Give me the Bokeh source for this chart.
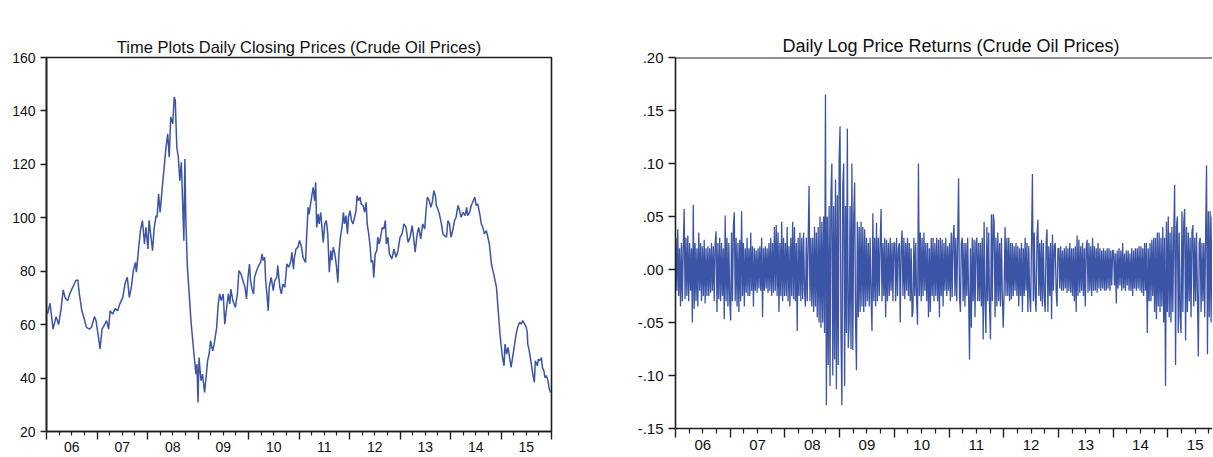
from bokeh.plotting import figure
from bokeh.layouts import row
from bokeh.models import FixedTicker, CustomJSTickFormatter, LinearAxis, Span, Range1d
from bokeh.embed import file_html
from bokeh.resources import INLINE

# ---------------- data ----------------
year_labels = ["06", "07", "08", "09", "10", "11", "12", "13", "14", "15"]
first_year = 2006

price_ticks = [20, 40, 60, 80, 100, 120, 140, 160]
price_tick_labels = ["20", "40", "60", "80", "100", "120", "140", "160"]
ret_ticks = [-0.15, -0.10, -0.05, 0.0, 0.05, 0.10, 0.15, 0.20]
ret_tick_labels = ["-.15", "-.10", "-.05", ".00", ".05", ".10", ".15", ".20"]

# daily closing prices (sampled), 2006 - early 2009
price_year_a = [2006.02, 2006.07, 2006.13, 2006.19, 2006.24, 2006.29, 2006.33, 2006.37, 2006.42, 2006.46,
                2006.52, 2006.58, 2006.62, 2006.65, 2006.70, 2006.75, 2006.79, 2006.85, 2006.89, 2006.95,
                2006.98, 2007.03, 2007.06, 2007.10, 2007.14, 2007.19, 2007.23, 2007.26, 2007.31, 2007.36,
                2007.41, 2007.45, 2007.51, 2007.56, 2007.60, 2007.64, 2007.68, 2007.72, 2007.76, 2007.78,
                2007.82, 2007.86, 2007.90, 2007.94, 2007.97, 2008.01, 2008.03, 2008.07, 2008.10, 2008.13,
                2008.17, 2008.19, 2008.22, 2008.25, 2008.29, 2008.33, 2008.36, 2008.40, 2008.43, 2008.46,
                2008.50, 2008.53, 2008.55, 2008.58, 2008.61, 2008.64, 2008.67, 2008.69, 2008.72, 2008.74,
                2008.76, 2008.79, 2008.83, 2008.86, 2008.89, 2008.92, 2008.96, 2008.98, 2009.00, 2009.02,
                2009.06, 2009.09, 2009.13, 2009.16, 2009.19, 2009.22, 2009.25, 2009.29, 2009.32]
price_value_a = [64, 68, 58.3, 63, 60, 66, 73, 70, 69, 71.5,
                 74, 76.5, 76.7, 71.5, 65.2, 62, 59, 58.3, 59, 63,
                 61.5, 55.2, 50.9, 58.3, 59.6, 61.5, 58.3, 65.2, 64, 66,
                 65.2, 67.7, 70.2, 75.8, 77.7, 70.2, 74, 80.2, 83.3, 79.6,
                 87.7, 95.2, 99, 90.2, 96.4, 88.3, 99, 92.7, 87.7, 95.8,
                 100.8, 100.2, 109, 102, 110.8, 119, 125.2, 131.4, 122.7, 137.7,
                 135.2, 145.2, 143.9, 126.4, 122.7, 113.9, 120.8, 109, 91.4, 122,
                 99, 81.5, 70.2, 61.5, 55.2, 49, 41.5, 45.2, 30.9, 47.7,
                 39, 41.5, 34.6, 40.2, 46.5, 49, 54, 50.2, 52.7]

# 2009 - 2012
price_year_b = [2009.37, 2009.40, 2009.43, 2009.46, 2009.50, 2009.53, 2009.56, 2009.60, 2009.63, 2009.65,
                2009.69, 2009.74, 2009.78, 2009.81, 2009.85, 2009.89, 2009.93, 2009.96, 2009.99, 2010.02,
                2010.04, 2010.07, 2010.10, 2010.12, 2010.16, 2010.20, 2010.24, 2010.27, 2010.29, 2010.32,
                2010.34, 2010.37, 2010.39, 2010.41, 2010.45, 2010.49, 2010.52, 2010.56, 2010.58, 2010.62,
                2010.65, 2010.68, 2010.72, 2010.76, 2010.80, 2010.84, 2010.86, 2010.89, 2010.91, 2010.94,
                2010.98, 2011.01, 2011.05, 2011.08, 2011.11, 2011.13, 2011.15, 2011.18, 2011.20, 2011.23,
                2011.26, 2011.28, 2011.31, 2011.33, 2011.35, 2011.38, 2011.40, 2011.43, 2011.46, 2011.48,
                2011.51, 2011.54, 2011.57, 2011.60, 2011.63, 2011.65, 2011.68, 2011.71, 2011.74, 2011.77,
                2011.79, 2011.82, 2011.85, 2011.88, 2011.90, 2011.93, 2011.96, 2011.98, 2012.01, 2012.04,
                2012.07, 2012.10, 2012.13, 2012.15, 2012.18, 2012.21, 2012.23, 2012.27, 2012.30, 2012.33,
                2012.35, 2012.38, 2012.41, 2012.43, 2012.46, 2012.48, 2012.51, 2012.54, 2012.56, 2012.59,
                2012.62, 2012.65, 2012.68, 2012.71]
price_value_b = [59, 67.7, 71.5, 69, 71.5, 60.2, 65.2, 71.5, 67.7, 73.3,
                 69, 66.5, 71.5, 80.2, 79, 76.5, 74, 69.6, 77.7, 82.7,
                 76.5, 73.3, 71.5, 77.7, 80.2, 82.1, 83.3, 86.5, 84, 85.2,
                 76.5, 70.2, 65.2, 74, 77.7, 72.7, 76.5, 77.7, 82.1, 74,
                 71.5, 75.2, 74, 82.7, 81.5, 84, 87.1, 80.8, 85.2, 88.3,
                 89, 91.5, 89, 85.2, 84, 83.3, 92.7, 103.9, 101.4, 105.2,
                 109, 111.4, 106.4, 113.3, 96.4, 101.4, 97.7, 102, 95.2, 90.8,
                 97.7, 99, 94, 79.6, 87.7, 84, 89, 86.5, 82.1, 75.8,
                 86.5, 92.7, 96.4, 102, 97.7, 100.8, 94, 100.2, 102.7, 99,
                 97.7, 100.2, 102.7, 108.3, 106.4, 107.7, 105.2, 104.6, 102, 105.8,
                 97.7, 94, 89, 83.3, 84, 77.7, 86.5, 87.7, 92.7, 90.2,
                 93.3, 96.4, 95.8, 99]

# 2012 - 2015
price_year_c = [2012.73, 2012.76, 2012.79, 2012.84, 2012.88, 2012.92, 2012.96, 2013.00, 2013.04, 2013.08,
                2013.12, 2013.16, 2013.20, 2013.24, 2013.27, 2013.30, 2013.34, 2013.37, 2013.41, 2013.45,
                2013.49, 2013.51, 2013.54, 2013.58, 2013.61, 2013.64, 2013.67, 2013.70, 2013.72, 2013.75,
                2013.78, 2013.82, 2013.85, 2013.88, 2013.92, 2013.95, 2013.98, 2014.01, 2014.05, 2014.08,
                2014.11, 2014.15, 2014.18, 2014.21, 2014.25, 2014.29, 2014.32, 2014.34, 2014.38, 2014.41,
                2014.44, 2014.48, 2014.51, 2014.54, 2014.58, 2014.61, 2014.64, 2014.67, 2014.71, 2014.74,
                2014.77, 2014.81, 2014.84, 2014.87, 2014.91, 2014.93, 2014.95, 2014.98, 2015.00, 2015.03,
                2015.06, 2015.08, 2015.11, 2015.14, 2015.17, 2015.20, 2015.24, 2015.27, 2015.30, 2015.33,
                2015.37, 2015.40, 2015.43, 2015.47, 2015.50, 2015.52, 2015.53, 2015.56, 2015.60, 2015.63,
                2015.66, 2015.68, 2015.72, 2015.74, 2015.77, 2015.80, 2015.82, 2015.85, 2015.87, 2015.90,
                2015.93, 2015.95, 2015.98]
price_value_c = [90.2, 92.7, 86.5, 84.6, 88.3, 85.2, 87.7, 92.7, 94, 97.7,
                 96.4, 90.8, 92.7, 97.1, 92.7, 87.1, 94, 96.4, 92.1, 97.7,
                 95.8, 101.4, 107.7, 106.4, 103.9, 105.8, 110.2, 108.3, 104.6, 103.3,
                 101.4, 97.7, 94, 93.3, 92.7, 99, 97.7, 92.7, 95.8, 99,
                 100.2, 104.6, 102.7, 100.2, 102, 100.8, 103.9, 100.8, 102, 104.6,
                 105.8, 107.7, 104.6, 105.2, 101.4, 97.7, 96.4, 94, 95.2, 92.7,
                 90.2, 82.7, 80.2, 77.7, 74, 69, 64, 56.5, 52.7, 47.7,
                 44.6, 52.7, 49, 51.5, 47.7, 44, 49, 52.7, 56.5, 59,
                 60.9, 60.2, 61.5, 60.2, 59, 57.1, 52.7, 50.2, 45.2, 41.5,
                 38.4, 46.5, 44.6, 47.1, 46.5, 47.7, 44, 42.7, 40.2, 40.9,
                 39, 36.5, 34.6]

# daily log returns (sampled extremes, 60 per year)
ret_2006 = [0.03, -0.02, 0.038, -0.025, 0.02, -0.035, 0.025, -0.03, 0.02, 0.057,
            -0.028, 0.03, -0.025, 0.032, -0.03, 0.025, -0.02, 0.02, -0.05, 0.061,
            -0.037, 0.025, -0.03, 0.02, -0.035, 0.035, -0.02, 0.025, -0.03, 0.022,
            -0.025, 0.028, -0.032, 0.02, -0.025, 0.022, -0.025, 0.02, -0.022, 0.025,
            -0.02, 0.022, -0.03, 0.025, 0.036, -0.04, 0.025, -0.028, 0.03, -0.03,
            0.025, -0.025, 0.02, -0.047, 0.051, -0.03, 0.03, -0.035, 0.025, -0.03]
ret_2007 = [-0.048, 0.035, -0.03, 0.042, 0.054, -0.03, 0.03, -0.035, 0.025, -0.04,
            0.028, -0.03, 0.055, -0.025, 0.025, -0.035, 0.02, -0.022, 0.03, -0.025,
            0.02, -0.025, 0.035, -0.02, 0.022, -0.035, 0.02, -0.02, 0.018, -0.022,
            0.02, -0.018, 0.022, -0.02, 0.03, -0.045, 0.02, -0.02, 0.022, -0.018,
            0.02, -0.022, 0.025, -0.02, 0.03, -0.025, 0.025, -0.022, 0.04, -0.02,
            0.042, -0.025, 0.035, -0.04, 0.025, -0.025, 0.045, -0.03, 0.03, -0.025]
ret_2008 = [0.025, -0.025, 0.04, -0.03, 0.022, -0.035, 0.03, -0.025, 0.045, -0.028,
            0.04, -0.03, 0.025, -0.058, 0.03, -0.025, 0.035, -0.03, 0.03, -0.028,
            0.035, -0.02, -0.035, 0.03, -0.03, 0.025, 0.079, -0.03, 0.03, -0.035,
            0.03, -0.04, 0.04, -0.035, 0.035, -0.045, 0.04, -0.05, 0.05, -0.055,
            0.045, -0.05, 0.05, -0.06, 0.165, -0.128, 0.05, -0.09, 0.06, -0.11,
            0.07, 0.1, -0.1, 0.06, -0.085, 0.085, -0.113, 0.07, -0.09, 0.105]
ret_2009 = [0.135, -0.06, -0.128, 0.08, 0.1, -0.11, 0.06, -0.06, 0.133, -0.074,
            -0.05, 0.06, -0.075, 0.1, -0.076, 0.05, 0.082, -0.05, -0.095, 0.045,
            -0.045, 0.04, -0.04, 0.045, -0.035, 0.04, -0.04, 0.038, -0.035, 0.03,
            -0.03, 0.025, -0.035, 0.03, -0.025, -0.058, 0.053, -0.03, 0.03, -0.035,
            0.044, -0.03, 0.03, -0.025, 0.025, 0.057, -0.03, 0.025, -0.025, 0.03,
            -0.045, 0.028, -0.03, 0.025, -0.025, 0.03, -0.02, 0.025, -0.03, 0.025]
ret_2010 = [0.025, -0.03, 0.03, -0.025, 0.02, 0.025, -0.05, 0.02, 0.037, -0.025,
            0.03, -0.028, 0.025, -0.02, 0.03, -0.025, 0.025, -0.03, 0.02, -0.045,
            -0.04, 0.03, -0.025, 0.025, -0.03, -0.052, 0.1, -0.025, 0.035, -0.03,
            0.03, -0.025, 0.035, -0.02, 0.025, -0.03, 0.025, -0.045, 0.02, -0.04,
            0.03, -0.025, 0.03, -0.03, 0.025, -0.025, 0.03, -0.03, 0.028, -0.045,
            0.03, -0.025, 0.028, -0.035, 0.025, -0.02, 0.03, -0.025, 0.022, -0.02]
ret_2011 = [0.025, -0.03, 0.035, -0.026, 0.03, 0.042, -0.025, 0.03, -0.03, 0.025,
            0.086, -0.025, -0.04, 0.025, 0.03, -0.03, 0.025, -0.035, 0.025, -0.025,
            0.03, -0.025, -0.085, 0.02, -0.055, 0.03, -0.03, 0.028, -0.045, 0.025,
            0.03, -0.03, 0.025, -0.03, 0.025, -0.035, 0.03, -0.066, 0.045, -0.03,
            -0.06, 0.04, -0.03, 0.035, -0.035, -0.066, 0.052, -0.03, 0.052, 0.045,
            -0.045, 0.03, -0.035, 0.035, -0.03, 0.025, -0.035, 0.03, -0.025, -0.055]
ret_2012 = [-0.02, 0.04, -0.025, 0.03, -0.025, 0.03, -0.03, 0.025, -0.028, 0.025,
            -0.025, 0.022, -0.02, 0.025, -0.025, 0.022, -0.035, 0.02, -0.025, 0.025,
            -0.04, 0.02, -0.025, 0.03, -0.02, 0.025, -0.04, 0.022, -0.025, -0.04,
            0.025, 0.09, -0.03, 0.035, -0.025, -0.04, 0.03, 0.047, -0.025, 0.025,
            -0.03, 0.028, -0.035, 0.025, -0.025, -0.04, 0.025, 0.038, -0.04, 0.022,
            -0.025, 0.025, -0.047, 0.033, -0.02, 0.022, 0.025, -0.02, -0.035, 0.02]
ret_2013 = [0.02, -0.018, 0.022, -0.02, 0.018, -0.02, 0.02, -0.018, 0.022, -0.022,
            0.02, -0.02, 0.025, -0.022, 0.02, -0.025, 0.02, -0.03, 0.022, -0.04,
            0.032, -0.025, 0.028, -0.022, 0.022, -0.02, 0.025, -0.025, 0.02, -0.035,
            0.02, 0.028, -0.022, 0.025, -0.02, 0.022, -0.025, 0.03, -0.02, 0.022,
            -0.02, 0.02, -0.022, 0.025, -0.018, 0.02, -0.02, 0.018, -0.018, 0.02,
            -0.02, 0.018, -0.02, 0.02, -0.018, 0.02, -0.02, 0.018, -0.015, 0.018]
ret_2014 = [0.018, -0.015, 0.015, -0.032, 0.018, -0.018, 0.02, -0.015, 0.018, -0.02,
            0.025, -0.018, 0.015, -0.02, 0.018, -0.015, 0.018, -0.02, 0.015, -0.02,
            0.02, -0.025, 0.018, -0.018, 0.02, -0.02, 0.02, -0.018, 0.022, -0.02,
            0.022, -0.022, 0.02, -0.025, 0.025, -0.02, 0.025, -0.06, 0.02, -0.03,
            0.025, -0.03, 0.028, -0.025, 0.03, -0.04, 0.03, -0.047, 0.035, -0.035,
            0.035, -0.04, 0.03, -0.035, 0.04, -0.05, 0.03, -0.11, 0.045, -0.04]
ret_2015 = [0.05, -0.045, 0.035, -0.05, 0.04, -0.04, 0.03, 0.08, -0.09, 0.04,
            0.05, -0.06, 0.035, -0.045, -0.06, 0.055, -0.04, 0.045, 0.057, -0.067,
            0.04, -0.04, 0.035, -0.03, 0.03, -0.045, 0.035, 0.042, -0.035, 0.03,
            -0.03, 0.035, -0.025, -0.082, 0.025, 0.03, -0.04, 0.025, -0.03, 0.025,
            -0.045, 0.035, 0.098, -0.08, 0.055, -0.045, 0.055, -0.05, 0.05, -0.055,
            0.04, -0.05, 0.045, -0.04, 0.035, -0.045, 0.04, -0.035, 0.03, -0.04]
returns_by_year = [ret_2006, ret_2007, ret_2008, ret_2009, ret_2010,
                   ret_2011, ret_2012, ret_2013, ret_2014, ret_2015]

# ---------------- styling ----------------
FONT = "Liberation Sans"
LINE = "#3B54A5"
AX = "#1e1e1e"

price_x = price_year_a + price_year_b + price_year_c
price_y = price_value_a + price_value_b + price_value_c

ret_x, ret_y = [], []
for k, vals in enumerate(returns_by_year):
    n = len(vals)
    for i, v in enumerate(vals):
        ret_x.append(first_year + k + (i + 0.5) / n)
        ret_y.append(v)

year_starts = [first_year + k for k in range(len(year_labels) + 1)]
quarters = [first_year + q / 4 for q in range(4 * len(year_labels) + 1) if q % 4]
mid_years = [first_year + k + 0.5 for k in range(len(year_labels))]

year_fmt = CustomJSTickFormatter(args=dict(ylabs=year_labels, y0=first_year),
                                 code="return ylabs[Math.floor(tick) - y0] || '';")


def list_fmt(tvals, tlabs):
    return CustomJSTickFormatter(args=dict(tvals=tvals, tlabs=tlabs), code="""
        let best = 0, d = 1e9;
        for (let k = 0; k < tvals.length; k++) {
            const e = Math.abs(tvals[k] - tick);
            if (e < d) { d = e; best = k; }
        }
        return tlabs[best];
    """)


def make(title, title_size, tick_size, frame_w, frame_h, xr, yr, yticks, ylabels,
         border_left, border_right, major_out, minor_out, ytick_out, title_align, title_offset):
    p = figure(frame_width=frame_w, frame_height=frame_h, x_range=xr, y_range=yr,
               output_backend="svg", toolbar_location=None,
               min_border_left=border_left, min_border_right=border_right,
               min_border_top=57, min_border_bottom=0,
               background_fill_color="white", border_fill_color="white")
    p.grid.visible = False

    p.title.text = title
    p.title.align = title_align
    p.title.vertical_align = "bottom"
    p.title.text_font = FONT
    p.title.text_font_size = title_size
    p.title.text_font_style = "normal"
    p.title.text_color = "#111111"
    p.title.standoff = 4
    p.title.offset = title_offset

    # bottom axis: long ticks at year starts, short ticks at quarters, no labels
    xa = p.below[0]
    xa.ticker = FixedTicker(ticks=year_starts, minor_ticks=quarters)
    xa.major_tick_in = 0
    xa.major_tick_out = major_out
    xa.minor_tick_in = 0
    xa.minor_tick_out = minor_out
    xa.major_label_text_font_size = "1px"
    xa.major_label_text_alpha = 0
    xa.major_label_standoff = 0
    xa.axis_line_color = AX
    xa.axis_line_width = 1.6
    xa.major_tick_line_color = AX
    xa.major_tick_line_width = 1.4
    xa.minor_tick_line_color = AX
    xa.minor_tick_line_width = 1.2

    # year labels centred in each year
    lab = LinearAxis(ticker=FixedTicker(ticks=mid_years, minor_ticks=[]), formatter=year_fmt,
                     axis_line_color=None, major_tick_line_color=None, minor_tick_line_color=None,
                     major_tick_in=0, major_tick_out=0, minor_tick_in=0, minor_tick_out=0,
                     major_label_standoff=2, major_label_text_font=FONT,
                     major_label_text_font_size=tick_size, major_label_text_color="#111111")
    p.add_layout(lab, "below")

    ya = p.left[0]
    ya.ticker = FixedTicker(ticks=yticks, minor_ticks=[])
    ya.formatter = list_fmt(yticks, ylabels)
    ya.major_tick_in = 0
    ya.major_tick_out = ytick_out
    ya.minor_tick_out = 0
    ya.major_label_standoff = 5
    ya.major_label_text_font = FONT
    ya.major_label_text_font_size = tick_size
    ya.major_label_text_color = "#111111"
    ya.axis_line_color = AX
    ya.axis_line_width = 1.6
    ya.major_tick_line_color = AX
    ya.major_tick_line_width = 1.4

    # empty spacer above the frame (no ticks drawn), so the title sits near the top edge
    spacer = LinearAxis(ticker=FixedTicker(ticks=[], minor_ticks=[]),
                        axis_line_color=None, major_tick_line_color="white", minor_tick_line_color=None,
                        major_tick_in=0, major_tick_out=27, minor_tick_in=0, minor_tick_out=0,
                        major_label_standoff=0, major_label_text_font_size="1px")
    p.add_layout(spacer, "above")
    return p


left = make("Time Plots Daily Closing Prices (Crude Oil Prices)", "16.5px", "14px",
            505, 374, Range1d(2006, 2016), Range1d(20, 160), price_ticks, price_tick_labels,
            46, 64, 8, 4, 6, "center", 0)
left.outline_line_color = AX
left.outline_line_width = 1.6
left.outline_line_alpha = 1
left.line(price_x, price_y, line_color=LINE, line_width=1.5)

right = make("Daily Log Price Returns (Crude Oil Prices)", "18px", "15px",
             537, 371, Range1d(2006, 2006 + 537 / 54.7), Range1d(-0.15, 0.20), ret_ticks, ret_tick_labels,
             60, 0, 9, 5, 7, "left", 107)
right.outline_line_color = None
right.add_layout(Span(location=0.20, dimension="width", line_color=AX, line_width=2))
right.line(ret_x, ret_y, line_color=LINE, line_width=1.3)

layout = row(left, right)
open("out.html", "w").write(file_html(layout, INLINE))
